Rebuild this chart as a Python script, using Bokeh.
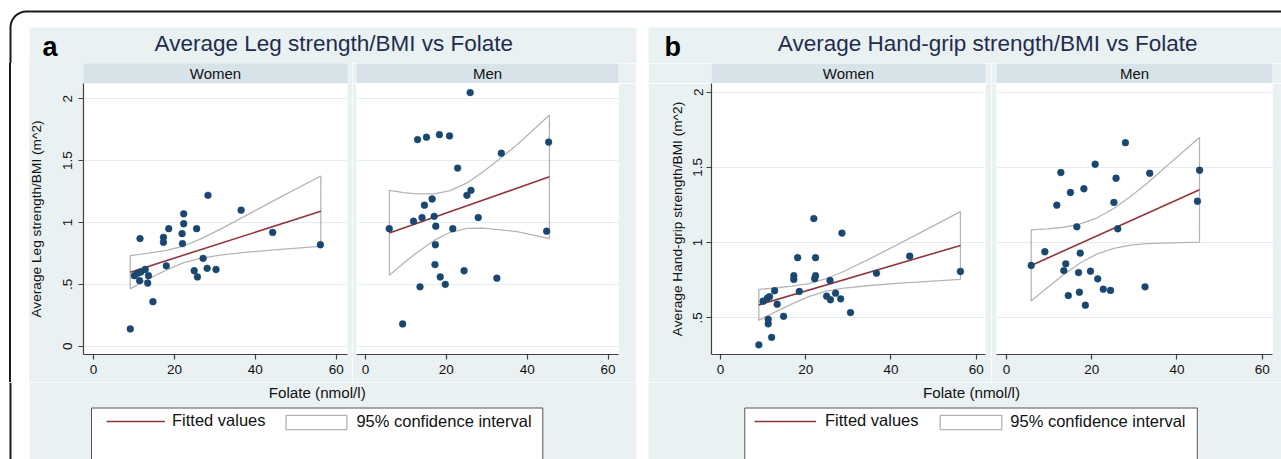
import numpy as np
from bokeh.plotting import figure
from bokeh.layouts import column, row
from bokeh.models import Range1d, FixedTicker, Label, Legend, LegendItem, Spacer
from bokeh.embed import file_html
from bokeh.resources import INLINE
from bokeh.core.properties import value

# ---------------- data ----------------
TITLE_A = "Average Leg strength/BMI vs Folate"
TITLE_B = "Average Hand-grip strength/BMI vs Folate"
YLABEL_A = "Average Leg strength/BMI (m^2)"
YLABEL_B = "Average Hand-grip strength/BMI (m^2)"
XLABEL = "Folate (nmol/l)"
GROUPS = ["Women", "Men"]
X_TICKS = [0, 20, 40, 60]
Y_TICKS_A = [0, 0.5, 1, 1.5, 2]
Y_LABELS_A = ["0", ".5", "1", "1.5", "2"]
Y_TICKS_B = [0.5, 1, 1.5, 2]
Y_LABELS_B = [".5", "1", "1.5", "2"]
LEGEND_LABELS = ["Fitted values", "95% confidence interval"]

# Panel a, women
aw_x = [9.1, 10.1, 10.9, 11.4, 11.5, 11.7, 12.8, 13.4, 13.6, 14.7, 17.3, 17.3, 18.0, 18.6,
        21.9, 22.0, 22.3, 22.3, 24.9, 25.5, 25.7, 27.1, 28.1, 28.3, 30.3, 36.5, 44.3, 56.1]
aw_y = [0.14, 0.57, 0.59, 0.53, 0.87, 0.60, 0.62, 0.51, 0.57, 0.36, 0.88, 0.84, 0.65, 0.95,
        0.91, 0.83, 1.07, 0.99, 0.61, 0.95, 0.56, 0.71, 0.63, 1.22, 0.62, 1.10, 0.92, 0.82]
aw_fit_x = [9.07, 56.2]
aw_fit_y = [0.598, 1.091]
aw_ci_x = [9.07, 13.2, 18.1, 22.3, 26.4, 31.3, 37.9, 46.2, 56.2]
aw_ci_hi = [0.733, 0.750, 0.775, 0.810, 0.865, 0.945, 1.060, 1.205, 1.376]
aw_ci_lo = [0.464, 0.537, 0.617, 0.675, 0.710, 0.737, 0.760, 0.783, 0.807]

# Panel a, men
am_x = [5.9, 9.2, 11.9, 12.9, 13.5, 14.0, 14.6, 15.1, 16.5, 17.0, 17.2, 17.3, 17.4, 18.3,
        18.5, 19.75, 20.8, 21.6, 22.8, 24.4, 25.1, 25.9, 26.1, 27.9, 32.5, 33.6, 44.8, 45.3]
am_y = [0.95, 0.18, 1.01, 1.67, 0.48, 1.04, 1.14, 1.69, 1.19, 1.05, 0.66, 0.82, 0.97, 1.71,
        0.56, 0.50, 1.70, 0.95, 1.44, 0.61, 1.22, 2.05, 1.26, 1.04, 0.55, 1.56, 0.93, 1.65]
am_fit_x = [5.93, 45.5]
am_fit_y = [0.916, 1.369]
am_ci_x = [5.93, 9.48, 12.77, 16.9, 21.0, 25.1, 29.2, 33.4, 37.5, 45.5]
am_ci_hi = [1.260, 1.242, 1.231, 1.231, 1.257, 1.320, 1.412, 1.520, 1.629, 1.869]
am_ci_lo = [0.573, 0.672, 0.758, 0.853, 0.921, 0.952, 0.955, 0.941, 0.926, 0.869]

# Panel b, women
bw_x = [9.0, 10.0, 11.0, 11.5, 11.2, 11.2, 12.0, 12.7, 13.3, 14.8, 17.2, 17.2, 18.1, 18.5,
        21.9, 22.1, 22.3, 22.3, 24.9, 25.7, 25.8, 27.0, 28.2, 28.5, 30.5, 36.6, 44.4, 56.3]
bw_y = [0.32, 0.61, 0.63, 0.64, 0.49, 0.46, 0.37, 0.68, 0.59, 0.51, 0.78, 0.755, 0.90, 0.675,
        1.16, 0.76, 0.78, 0.90, 0.644, 0.748, 0.62, 0.664, 0.626, 1.063, 0.535, 0.797, 0.91, 0.808]
bw_fit_x = [8.99, 56.3]
bw_fit_y = [0.586, 0.981]
bw_ci_x = [8.99, 12.9, 16.8, 20.7, 24.6, 28.5, 34.4, 42.2, 56.3]
bw_ci_hi = [0.689, 0.698, 0.710, 0.727, 0.758, 0.803, 0.883, 0.997, 1.206]
bw_ci_lo = [0.483, 0.539, 0.593, 0.641, 0.676, 0.696, 0.713, 0.730, 0.756]

# Panel b, men
bm_x = [5.8, 9.0, 11.8, 12.75, 13.45, 13.9, 14.5, 15.0, 16.5, 16.9, 17.1, 17.3, 18.15, 18.5,
        19.7, 20.8, 21.4, 22.7, 24.4, 25.2, 25.7, 26.1, 27.9, 32.5, 33.6, 44.8, 45.3]
bm_y = [0.848, 0.939, 1.249, 1.466, 0.814, 0.859, 0.648, 1.333, 1.105, 0.801, 0.670, 0.93, 1.358,
        0.584, 0.81, 1.521, 0.759, 0.69, 0.682, 1.267, 1.428, 1.092, 1.664, 0.706, 1.461, 1.275, 1.481]
bm_fit_x = [5.79, 45.28]
bm_fit_y = [0.848, 1.351]
bm_ci_x = [5.79, 9.54, 13.45, 17.36, 21.27, 25.18, 29.09, 33.0, 36.91, 45.28]
bm_ci_hi = [1.085, 1.091, 1.102, 1.124, 1.165, 1.227, 1.306, 1.395, 1.493, 1.699]
bm_ci_lo = [0.611, 0.700, 0.788, 0.866, 0.925, 0.962, 0.983, 0.993, 0.996, 1.003]

# ---------------- style ----------------
FONT = "Liberation Sans"
PANEL = "#eaf1f3"
HEADER = "#d7e3e9"
GRID = "#e4edf0"
NAVY = "#1a476f"
MAROON = "#90353b"
CI_C = "#b5b5b5"
TITLE_C = "#1f2d4f"
AXIS_C = "#404040"
TEXT_C = "#111111"
W, H = 1281, 459


def border_style(white_left):
    # border area of a figure: white strip on the far left, panel colour elsewhere
    if not white_left:
        return PANEL, {}
    grad = "linear-gradient(to right, #ffffff %dpx, %s %dpx)" % (white_left, PANEL, white_left)
    return None, {"background": grad}


def deco_fig(w, h, y0, y1, x0=0):
    f = figure(width=w, height=h, x_range=Range1d(x0, x0 + w), y_range=Range1d(y1, y0),
               output_backend="svg", toolbar_location=None, title=None,
               x_axis_location=None, y_axis_location=None, min_border=0,
               outline_line_color=None, background_fill_color="white",
               border_fill_color="white")
    f.grid.visible = False
    return f


def header_fig(w, lb, rb, text, white_left=0):
    bf, st = border_style(white_left)
    f = figure(width=w, height=20, x_range=Range1d(0, 1), y_range=Range1d(0, 1),
               output_backend="svg", toolbar_location=None, title=None,
               x_axis_location=None, y_axis_location=None,
               min_border_left=lb, min_border_right=rb, min_border_top=0, min_border_bottom=0,
               outline_line_color=None, background_fill_color=HEADER, border_fill_color=bf,
               styles=st)
    f.grid.visible = False
    f.add_layout(Label(x=0.5, y=0.5, text=text, text_align="center", text_baseline="middle",
                       text_font=FONT, text_font_size="15px", text_color=TEXT_C))
    return f


def plot_fig(w, lb, rb, xr, yr, yticks, ylabels, ylabel, show_y, lbl_standoff, tick_standoff,
             px, py, fx, fy, cx, chi, clo, white_left=0):
    bf, st = border_style(white_left)
    p = figure(width=w, height=299, x_range=Range1d(*xr), y_range=Range1d(*yr),
               output_backend="svg", toolbar_location=None, title=None,
               y_axis_location="left" if show_y else None,
               min_border_left=lb, min_border_right=rb, min_border_top=0, min_border_bottom=28,
               outline_line_color=None, background_fill_color="white", border_fill_color=bf,
               styles=st)
    ax = p.xaxis[0]
    ax.ticker = FixedTicker(ticks=X_TICKS)
    for a in p.axis:
        a.axis_line_color = AXIS_C
        a.axis_line_width = 1.2
        a.major_tick_line_color = AXIS_C
        a.major_tick_line_width = 1.2
        a.major_tick_out = 5
        a.major_tick_in = 0
        a.minor_tick_line_color = None
        a.major_label_text_font = FONT
        a.major_label_text_font_size = "13.5px"
        a.major_label_text_color = TEXT_C
    ax.major_label_standoff = 5
    p.xgrid.visible = False
    p.ygrid.ticker = FixedTicker(ticks=yticks)
    p.ygrid.grid_line_color = GRID
    p.ygrid.grid_line_width = 1
    if show_y:
        ay = p.yaxis[0]
        ay.ticker = FixedTicker(ticks=yticks)
        ay.major_label_overrides = {t: l for t, l in zip(yticks, ylabels)}
        ay.major_label_orientation = "vertical"
        ay.major_label_standoff = tick_standoff
        ay.axis_label = ylabel
        ay.axis_label_text_font = FONT
        ay.axis_label_text_font_size = "13.7px"
        ay.axis_label_text_font_style = "normal"
        ay.axis_label_text_color = TEXT_C
        ay.axis_label_standoff = lbl_standoff
    p.patch(cx + cx[::-1], chi + clo[::-1], fill_color=None, line_color=CI_C, line_width=1.3)
    p.line(fx, fy, line_color=MAROON, line_width=1.6)
    p.scatter(px, py, size=6.8, fill_color=NAVY, line_color=NAVY, line_width=0.5)
    return p


# ---------------- top strip: border, panel letters, titles ----------------
TOP_H = 63
top = deco_fig(W, TOP_H, 0, TOP_H)
top.quad(left=[29, 648], right=[636, W], top=[27, 27], bottom=[TOP_H, TOP_H],
         fill_color=PANEL, line_color=None)
R = 16
t = np.linspace(np.pi, 1.5 * np.pi, 24)
bx = [10.0] + list(10 + R + R * np.cos(t)) + [float(W)]
by = [float(TOP_H)] + list(11 + R + R * np.sin(t)) + [11.0]
top.line(bx, by, line_color="#1a1a1a", line_width=2)
top.text(x=[42, 664], y=[46.3, 46.3], text=["a", "b"], text_font=value(FONT),
         text_font_style="bold", text_font_size=value("27px"), text_color="#000000",
         text_align="left", text_baseline="middle")
top.text(x=[333.3, 987.2], y=[42.9, 42.9], text=[TITLE_A, TITLE_B], text_font=value(FONT),
         text_font_size=value("22.5px"), text_color=TITLE_C,
         text_align="center", text_baseline="middle")

# ---------------- middle: 4 facets ----------------
MID_H = 319
EDGE_W = 21
edge = Spacer(width=EDGE_W, height=MID_H,
              styles={"background": "linear-gradient(to right, #ffffff 9px, #1a1a1a 9px, "
                                    "#1a1a1a 11px, #ffffff 11px)"})
F1_W = 352 - EDGE_W
F1_LB = 83 - EDGE_W
WL = 29 - EDGE_W

f1 = plot_fig(F1_W, F1_LB, 5, (-2.47, 62.8), (-0.0671, 2.1237), Y_TICKS_A, Y_LABELS_A, YLABEL_A,
              True, 17, 6, aw_x, aw_y, aw_fit_x, aw_fit_y, aw_ci_x, aw_ci_hi, aw_ci_lo,
              white_left=WL)
f2 = plot_fig(284, 4, 18, (-2.2, 62.57), (-0.0671, 2.1237), Y_TICKS_A, Y_LABELS_A, "",
              False, 0, 0, am_x, am_y, am_fit_x, am_fit_y, am_ci_x, am_ci_hi, am_ci_lo)
f3 = plot_fig(343, 63, 6, (-2.11, 62.18), (0.256, 2.0578), Y_TICKS_B, Y_LABELS_B, YLABEL_B,
              True, 6, 4, bw_x, bw_y, bw_fit_x, bw_fit_y, bw_ci_x, bw_ci_hi, bw_ci_lo)
f4 = plot_fig(290, 5, 9, (-2.35, 62.41), (0.256, 2.0578), Y_TICKS_B, Y_LABELS_B, "",
              False, 0, 0, bm_x, bm_y, bm_fit_x, bm_fit_y, bm_ci_x, bm_ci_hi, bm_ci_lo)

h1 = header_fig(F1_W, F1_LB, 5, GROUPS[0], white_left=WL)
h2 = header_fig(284, 4, 18, GROUPS[1])
h3 = header_fig(343, 63, 6, GROUPS[0])
h4 = header_fig(290, 5, 9, GROUPS[1])

mid = row(edge, column(h1, f1), column(h2, f2), Spacer(width=12, height=MID_H),
          column(h3, f3), column(h4, f4))

# ---------------- bottom strip: x title and legends ----------------
BOT_Y0 = TOP_H + MID_H
BOT_H = H - BOT_Y0
bot = deco_fig(W, BOT_H, BOT_Y0, H)
bot.quad(left=[29, 648], right=[636, W], top=[BOT_Y0, BOT_Y0], bottom=[H, H],
         fill_color=PANEL, line_color=None)
bot.quad(left=[9], right=[11], top=[BOT_Y0], bottom=[H], fill_color="#1a1a1a", line_color=None)
bot.text(x=[316.7, 971.0], y=[391.7, 391.7], text=[XLABEL, XLABEL], text_font=value(FONT),
         text_font_size=value("15.2px"), text_color=TEXT_C,
         text_align="center", text_baseline="middle")
bot.quad(left=[91, 744.3], right=[542.3, 1196.8], top=[407.5, 407.5], bottom=[H + 5, H + 5],
         fill_color="white", line_color="#555555", line_width=1)
nan = float("nan")
r_fit = bot.line(x=[nan, nan], y=[nan, nan], line_color=MAROON, line_width=1.6)
r_ci = bot.patch(x=[nan, nan, nan], y=[nan, nan, nan], fill_color="white",
                 line_color=CI_C, line_width=1.3)


def add_leg(renderer, label, x_page, bottom_page, gw, standoff):
    lg = Legend(items=[LegendItem(label=label, renderers=[renderer])],
                location=(x_page, H - bottom_page), orientation="horizontal",
                glyph_width=gw, glyph_height=18, label_height=18, label_standoff=standoff,
                padding=0, margin=0, spacing=0, border_line_color=None,
                background_fill_alpha=0, label_text_font=FONT,
                label_text_font_size="16.5px", label_text_color=TEXT_C)
    bot.add_layout(lg)


add_leg(r_fit, LEGEND_LABELS[0], 106, 430, 59, 7)
add_leg(r_ci, LEGEND_LABELS[1], 278.4, 431, 76, 2)
add_leg(r_fit, LEGEND_LABELS[0], 754, 430, 62, 9)
add_leg(r_ci, LEGEND_LABELS[1], 932.3, 431, 77, 1)

p = column(top, mid, bot)
open("out.html", "w").write(file_html(p, INLINE))
